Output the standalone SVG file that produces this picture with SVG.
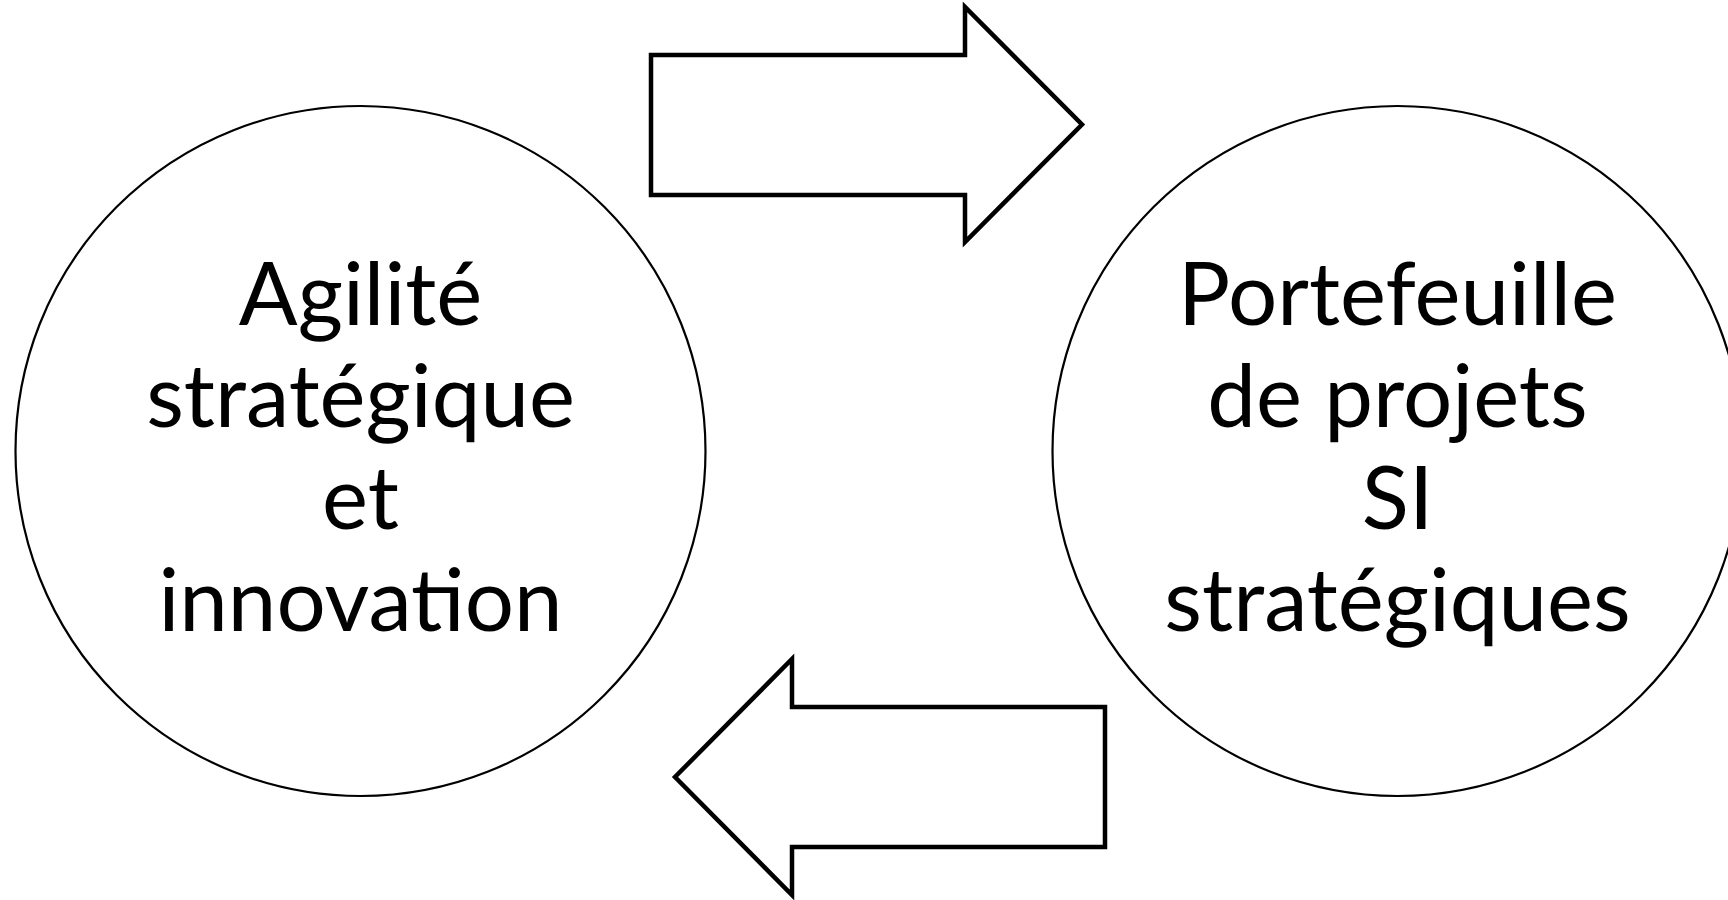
<svg xmlns="http://www.w3.org/2000/svg" width="1728" height="900" viewBox="0 0 1728 900">
<style>
.bg{fill:#ffffff}
.circ{fill:#ffffff;stroke:#000000;stroke-width:2.2}
.arrow{fill:#ffffff;stroke:#000000;stroke-width:4.5;stroke-linejoin:miter}
.lbl{font-family:Lato,"Open Sans","Liberation Sans",sans-serif;font-size:87px;fill:#000000;text-anchor:middle}
</style>
<rect class="bg" x="0" y="0" width="1728" height="900"/>
<g id="connectors">
<polygon id="arrow-right" class="arrow" points="651,55 965,55 965,7 1082,124.5 965,242 965,195 651,195"/>
<polygon id="arrow-left" class="arrow" points="1105,707 792,707 792,659 675,777 792,895 792,847 1105,847"/>
</g>
<g id="node-agilite">
<circle class="circ" cx="360.5" cy="451" r="345"/>
<text class="lbl" x="360.5" y="325">Agilité</text>
<text class="lbl" x="360.5" y="427">stratégique</text>
<text class="lbl" x="360.5" y="529">et</text>
<text class="lbl" x="360.5" y="631">innovation</text>
</g>
<g id="node-portefeuille">
<circle class="circ" cx="1397.5" cy="451" r="345"/>
<text class="lbl" x="1397.5" y="325">Portefeuille</text>
<text class="lbl" x="1397.5" y="427">de projets</text>
<text class="lbl" x="1397.5" y="529">SI</text>
<text class="lbl" x="1397.5" y="631">stratégiques</text>
</g>
</svg>
